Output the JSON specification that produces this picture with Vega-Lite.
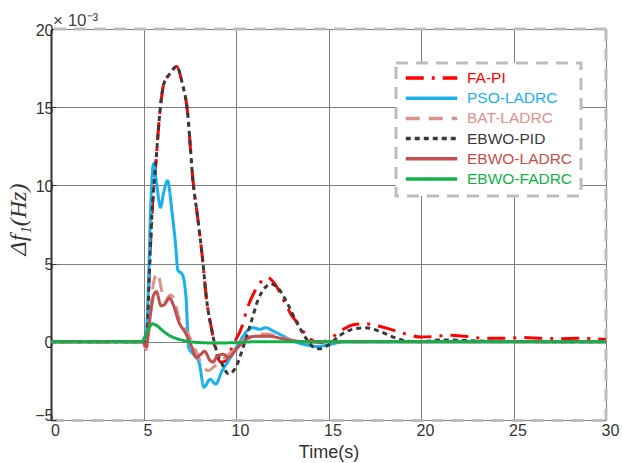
{
  "$schema": "https://vega.github.io/schema/vega-lite/v6.json",
  "width": 555,
  "height": 391,
  "autosize": {"type": "none"},
  "padding": {"left": 51, "top": 29, "right": 16, "bottom": 43},
  "background": "white",
  "title": {"text": "× 10⁻³", "anchor": "start", "frame": "group", "fontSize": 17, "fontWeight": "normal", "font": "Liberation Sans", "color": "#444444", "offset": -8, "dx": 2},
  "config": {
    "view": {"stroke": null},
    "axis": {"labelFont": "Liberation Sans", "titleFont": "Liberation Sans", "labelColor": "#333333", "titleColor": "#333333", "gridColor": "#808080", "gridOpacity": 1, "gridWidth": 1}
  },
  "datasets": {
    "curves": [
      {"s": "FA-PI", "t": 0, "v": 0}, {"s": "FA-PI", "t": 5.05, "v": 0}, {"s": "FA-PI", "t": 5.2, "v": 0.7}, {"s": "FA-PI", "t": 5.3, "v": 3.9}, {"s": "FA-PI", "t": 5.46, "v": 8.2}, {"s": "FA-PI", "t": 5.68, "v": 11.6}, {"s": "FA-PI", "t": 5.84, "v": 14.1}, {"s": "FA-PI", "t": 5.95, "v": 15.4}, {"s": "FA-PI", "t": 6.1, "v": 16.5}, {"s": "FA-PI", "t": 6.4, "v": 17.1}, {"s": "FA-PI", "t": 6.8, "v": 17.6}, {"s": "FA-PI", "t": 7.1, "v": 16.5}, {"s": "FA-PI", "t": 7.35, "v": 15.0}, {"s": "FA-PI", "t": 7.7, "v": 10.0}, {"s": "FA-PI", "t": 7.9, "v": 8.2}, {"s": "FA-PI", "t": 8.2, "v": 5.2}, {"s": "FA-PI", "t": 8.4, "v": 2.8}, {"s": "FA-PI", "t": 8.7, "v": 0.7}, {"s": "FA-PI", "t": 8.9, "v": -0.6}, {"s": "FA-PI", "t": 9.2, "v": -1.3}, {"s": "FA-PI", "t": 9.5, "v": -1.2}, {"s": "FA-PI", "t": 9.8, "v": -0.3}, {"s": "FA-PI", "t": 10.3, "v": 0.9}, {"s": "FA-PI", "t": 10.6, "v": 2.1}, {"s": "FA-PI", "t": 11.0, "v": 3.2}, {"s": "FA-PI", "t": 11.4, "v": 3.9}, {"s": "FA-PI", "t": 11.7, "v": 4.1}, {"s": "FA-PI", "t": 12.1, "v": 3.7}, {"s": "FA-PI", "t": 12.6, "v": 2.6}, {"s": "FA-PI", "t": 13.0, "v": 1.7}, {"s": "FA-PI", "t": 13.4, "v": 1.1}, {"s": "FA-PI", "t": 13.8, "v": 0.4}, {"s": "FA-PI", "t": 14.2, "v": 0.05}, {"s": "FA-PI", "t": 14.6, "v": -0.05}, {"s": "FA-PI", "t": 15.2, "v": 0.3}, {"s": "FA-PI", "t": 15.8, "v": 0.8}, {"s": "FA-PI", "t": 16.4, "v": 1.1}, {"s": "FA-PI", "t": 17.0, "v": 1.15}, {"s": "FA-PI", "t": 17.9, "v": 0.95}, {"s": "FA-PI", "t": 19.2, "v": 0.5}, {"s": "FA-PI", "t": 20.0, "v": 0.3}, {"s": "FA-PI", "t": 20.8, "v": 0.35}, {"s": "FA-PI", "t": 21.6, "v": 0.42}, {"s": "FA-PI", "t": 22.4, "v": 0.35}, {"s": "FA-PI", "t": 23.5, "v": 0.22}, {"s": "FA-PI", "t": 24.5, "v": 0.22}, {"s": "FA-PI", "t": 25.5, "v": 0.28}, {"s": "FA-PI", "t": 26.5, "v": 0.22}, {"s": "FA-PI", "t": 27.5, "v": 0.2}, {"s": "FA-PI", "t": 28.5, "v": 0.22}, {"s": "FA-PI", "t": 30, "v": 0.15},

      {"s": "PSO-LADRC", "t": 0, "v": 0}, {"s": "PSO-LADRC", "t": 4.95, "v": 0}, {"s": "PSO-LADRC", "t": 5.1, "v": -0.15}, {"s": "PSO-LADRC", "t": 5.25, "v": 3.0}, {"s": "PSO-LADRC", "t": 5.4, "v": 9.0}, {"s": "PSO-LADRC", "t": 5.55, "v": 11.4}, {"s": "PSO-LADRC", "t": 5.7, "v": 10.2}, {"s": "PSO-LADRC", "t": 5.92, "v": 8.6}, {"s": "PSO-LADRC", "t": 6.1, "v": 9.6}, {"s": "PSO-LADRC", "t": 6.3, "v": 10.3}, {"s": "PSO-LADRC", "t": 6.55, "v": 8.2}, {"s": "PSO-LADRC", "t": 6.75, "v": 6.0}, {"s": "PSO-LADRC", "t": 6.85, "v": 4.6}, {"s": "PSO-LADRC", "t": 7.1, "v": 4.3}, {"s": "PSO-LADRC", "t": 7.3, "v": 2.8}, {"s": "PSO-LADRC", "t": 7.45, "v": -0.4}, {"s": "PSO-LADRC", "t": 7.7, "v": -0.8}, {"s": "PSO-LADRC", "t": 8.0, "v": -1.3}, {"s": "PSO-LADRC", "t": 8.27, "v": -2.9}, {"s": "PSO-LADRC", "t": 8.6, "v": -2.4}, {"s": "PSO-LADRC", "t": 8.9, "v": -2.7}, {"s": "PSO-LADRC", "t": 9.25, "v": -1.85}, {"s": "PSO-LADRC", "t": 9.6, "v": -1.2}, {"s": "PSO-LADRC", "t": 9.8, "v": -0.8}, {"s": "PSO-LADRC", "t": 10.2, "v": 0.0}, {"s": "PSO-LADRC", "t": 10.6, "v": 0.7}, {"s": "PSO-LADRC", "t": 10.9, "v": 0.9}, {"s": "PSO-LADRC", "t": 11.3, "v": 0.8}, {"s": "PSO-LADRC", "t": 11.6, "v": 0.9}, {"s": "PSO-LADRC", "t": 12.0, "v": 0.7}, {"s": "PSO-LADRC", "t": 12.5, "v": 0.4}, {"s": "PSO-LADRC", "t": 13.2, "v": 0.0}, {"s": "PSO-LADRC", "t": 13.8, "v": -0.2}, {"s": "PSO-LADRC", "t": 14.3, "v": -0.3}, {"s": "PSO-LADRC", "t": 15.0, "v": -0.2}, {"s": "PSO-LADRC", "t": 15.8, "v": 0.0}, {"s": "PSO-LADRC", "t": 30, "v": 0},

      {"s": "BAT-LADRC", "t": 0, "v": 0}, {"s": "BAT-LADRC", "t": 4.95, "v": 0}, {"s": "BAT-LADRC", "t": 5.15, "v": -0.5}, {"s": "BAT-LADRC", "t": 5.35, "v": 1.5}, {"s": "BAT-LADRC", "t": 5.55, "v": 3.8}, {"s": "BAT-LADRC", "t": 5.75, "v": 4.4}, {"s": "BAT-LADRC", "t": 6.0, "v": 3.2}, {"s": "BAT-LADRC", "t": 6.15, "v": 2.6}, {"s": "BAT-LADRC", "t": 6.45, "v": 3.0}, {"s": "BAT-LADRC", "t": 6.65, "v": 2.8}, {"s": "BAT-LADRC", "t": 6.9, "v": 1.6}, {"s": "BAT-LADRC", "t": 7.2, "v": 0.9}, {"s": "BAT-LADRC", "t": 7.5, "v": 0.3}, {"s": "BAT-LADRC", "t": 7.8, "v": -0.5}, {"s": "BAT-LADRC", "t": 8.1, "v": -1.3}, {"s": "BAT-LADRC", "t": 8.5, "v": -1.85}, {"s": "BAT-LADRC", "t": 8.8, "v": -1.6}, {"s": "BAT-LADRC", "t": 9.1, "v": -1.3}, {"s": "BAT-LADRC", "t": 9.5, "v": -0.9}, {"s": "BAT-LADRC", "t": 9.9, "v": -0.5}, {"s": "BAT-LADRC", "t": 10.4, "v": 0.1}, {"s": "BAT-LADRC", "t": 11.0, "v": 0.4}, {"s": "BAT-LADRC", "t": 11.6, "v": 0.5}, {"s": "BAT-LADRC", "t": 12.3, "v": 0.35}, {"s": "BAT-LADRC", "t": 13.0, "v": 0.1}, {"s": "BAT-LADRC", "t": 13.8, "v": -0.05}, {"s": "BAT-LADRC", "t": 14.5, "v": 0}, {"s": "BAT-LADRC", "t": 30, "v": 0},

      {"s": "EBWO-PID", "t": 0, "v": 0}, {"s": "EBWO-PID", "t": 5.05, "v": 0}, {"s": "EBWO-PID", "t": 5.2, "v": 0.7}, {"s": "EBWO-PID", "t": 5.3, "v": 3.9}, {"s": "EBWO-PID", "t": 5.46, "v": 8.2}, {"s": "EBWO-PID", "t": 5.68, "v": 11.6}, {"s": "EBWO-PID", "t": 5.84, "v": 14.1}, {"s": "EBWO-PID", "t": 5.95, "v": 15.4}, {"s": "EBWO-PID", "t": 6.1, "v": 16.5}, {"s": "EBWO-PID", "t": 6.4, "v": 17.1}, {"s": "EBWO-PID", "t": 6.8, "v": 17.6}, {"s": "EBWO-PID", "t": 7.1, "v": 16.5}, {"s": "EBWO-PID", "t": 7.35, "v": 15.0}, {"s": "EBWO-PID", "t": 7.7, "v": 10.0}, {"s": "EBWO-PID", "t": 7.9, "v": 8.2}, {"s": "EBWO-PID", "t": 8.2, "v": 5.2}, {"s": "EBWO-PID", "t": 8.4, "v": 2.8}, {"s": "EBWO-PID", "t": 8.7, "v": 0.7}, {"s": "EBWO-PID", "t": 8.95, "v": -0.6}, {"s": "EBWO-PID", "t": 9.2, "v": -1.3}, {"s": "EBWO-PID", "t": 9.6, "v": -2.05}, {"s": "EBWO-PID", "t": 10.0, "v": -1.6}, {"s": "EBWO-PID", "t": 10.4, "v": -0.3}, {"s": "EBWO-PID", "t": 10.8, "v": 1.2}, {"s": "EBWO-PID", "t": 11.2, "v": 2.7}, {"s": "EBWO-PID", "t": 11.6, "v": 3.5}, {"s": "EBWO-PID", "t": 11.9, "v": 3.7}, {"s": "EBWO-PID", "t": 12.3, "v": 3.4}, {"s": "EBWO-PID", "t": 12.8, "v": 2.4}, {"s": "EBWO-PID", "t": 13.3, "v": 1.2}, {"s": "EBWO-PID", "t": 13.8, "v": 0.2}, {"s": "EBWO-PID", "t": 14.2, "v": -0.35}, {"s": "EBWO-PID", "t": 14.5, "v": -0.45}, {"s": "EBWO-PID", "t": 15.0, "v": -0.2}, {"s": "EBWO-PID", "t": 15.6, "v": 0.4}, {"s": "EBWO-PID", "t": 16.3, "v": 0.8}, {"s": "EBWO-PID", "t": 17.0, "v": 0.9}, {"s": "EBWO-PID", "t": 17.7, "v": 0.7}, {"s": "EBWO-PID", "t": 18.5, "v": 0.3}, {"s": "EBWO-PID", "t": 19.2, "v": 0.05}, {"s": "EBWO-PID", "t": 20.0, "v": 0.0}, {"s": "EBWO-PID", "t": 21.0, "v": 0.12}, {"s": "EBWO-PID", "t": 22.0, "v": 0.1}, {"s": "EBWO-PID", "t": 23.0, "v": 0.05}, {"s": "EBWO-PID", "t": 25.0, "v": 0.02}, {"s": "EBWO-PID", "t": 30, "v": 0},

      {"s": "EBWO-LADRC", "t": 0, "v": 0}, {"s": "EBWO-LADRC", "t": 4.95, "v": 0}, {"s": "EBWO-LADRC", "t": 5.15, "v": -0.3}, {"s": "EBWO-LADRC", "t": 5.35, "v": 1.5}, {"s": "EBWO-LADRC", "t": 5.55, "v": 3.0}, {"s": "EBWO-LADRC", "t": 5.7, "v": 3.2}, {"s": "EBWO-LADRC", "t": 5.95, "v": 2.3}, {"s": "EBWO-LADRC", "t": 6.15, "v": 2.4}, {"s": "EBWO-LADRC", "t": 6.4, "v": 2.8}, {"s": "EBWO-LADRC", "t": 6.6, "v": 2.4}, {"s": "EBWO-LADRC", "t": 6.9, "v": 1.3}, {"s": "EBWO-LADRC", "t": 7.3, "v": 0.5}, {"s": "EBWO-LADRC", "t": 7.6, "v": -0.3}, {"s": "EBWO-LADRC", "t": 7.85, "v": -1.0}, {"s": "EBWO-LADRC", "t": 8.1, "v": -0.8}, {"s": "EBWO-LADRC", "t": 8.3, "v": -0.6}, {"s": "EBWO-LADRC", "t": 8.6, "v": -1.2}, {"s": "EBWO-LADRC", "t": 8.75, "v": -1.3}, {"s": "EBWO-LADRC", "t": 9.0, "v": -0.9}, {"s": "EBWO-LADRC", "t": 9.3, "v": -0.8}, {"s": "EBWO-LADRC", "t": 9.6, "v": -1.0}, {"s": "EBWO-LADRC", "t": 10.0, "v": -0.5}, {"s": "EBWO-LADRC", "t": 10.4, "v": 0.0}, {"s": "EBWO-LADRC", "t": 11.0, "v": 0.35}, {"s": "EBWO-LADRC", "t": 11.8, "v": 0.35}, {"s": "EBWO-LADRC", "t": 12.5, "v": 0.2}, {"s": "EBWO-LADRC", "t": 13.2, "v": 0.05}, {"s": "EBWO-LADRC", "t": 14.0, "v": 0}, {"s": "EBWO-LADRC", "t": 30, "v": 0},

      {"s": "EBWO-FADRC", "t": 0, "v": 0}, {"s": "EBWO-FADRC", "t": 4.9, "v": 0}, {"s": "EBWO-FADRC", "t": 5.1, "v": 0.4}, {"s": "EBWO-FADRC", "t": 5.3, "v": 0.9}, {"s": "EBWO-FADRC", "t": 5.5, "v": 1.15}, {"s": "EBWO-FADRC", "t": 5.7, "v": 1.05}, {"s": "EBWO-FADRC", "t": 6.0, "v": 0.75}, {"s": "EBWO-FADRC", "t": 6.4, "v": 0.4}, {"s": "EBWO-FADRC", "t": 6.8, "v": 0.2}, {"s": "EBWO-FADRC", "t": 7.3, "v": 0.05}, {"s": "EBWO-FADRC", "t": 8.0, "v": -0.05}, {"s": "EBWO-FADRC", "t": 9.0, "v": -0.08}, {"s": "EBWO-FADRC", "t": 10.0, "v": -0.05}, {"s": "EBWO-FADRC", "t": 11.0, "v": 0}, {"s": "EBWO-FADRC", "t": 30, "v": 0}
    ]
  },
  "layer": [
    {
      "data": {"values": [{}]},
      "mark": {"type": "rule", "color": "#bdbdbd", "strokeWidth": 3, "strokeDash": [12, 8]},
      "encoding": {"y": {"datum": 20, "type": "quantitative"}}
    },
    {
      "data": {"values": [{}]},
      "mark": {"type": "rule", "color": "#bdbdbd", "strokeWidth": 3, "strokeDash": [12, 8]},
      "encoding": {"x": {"datum": 30, "type": "quantitative"}}
    },
    {
      "data": {"name": "curves"},
      "mark": {"type": "line", "strokeWidth": 3, "interpolate": "monotone"},
      "encoding": {
        "x": {
          "field": "t", "type": "quantitative",
          "scale": {"domain": [0, 30], "nice": false},
          "axis": {"values": [0, 5, 10, 15, 20, 25, 30], "title": "Time(s)", "titleFontSize": 18, "titleFontWeight": "normal", "titlePadding": 5, "labelFontSize": 16, "labelPadding": 2, "labelOffset": 4, "ticks": false, "domainColor": "#bdbdbd", "domainWidth": 3, "domainDash": [12, 8], "grid": true, "labelFlush": false}
        },
        "y": {
          "field": "v", "type": "quantitative",
          "scale": {"domain": [-5, 20], "nice": false, "zero": false},
          "axis": {"values": [-5, 0, 5, 10, 15, 20], "title": "Δf₁(Hz)", "titleFont": "Liberation Serif", "titleFontStyle": "italic", "titleFontSize": 24, "titleFontWeight": "normal", "titlePadding": 4, "titleY": 190, "labelFontSize": 16, "labelPadding": 3,
            "labelOffset": {"condition": {"test": "datum.value === -5", "value": -5}, "value": 1},
            "ticks": true, "tickSize": -5, "tickColor": "#333333", "domainColor": "#333333", "domainWidth": 2, "grid": true, "labelFlush": false}
        },
        "color": {
          "field": "s", "type": "nominal",
          "scale": {"domain": ["FA-PI", "PSO-LADRC", "BAT-LADRC", "EBWO-PID", "EBWO-LADRC", "EBWO-FADRC"], "range": ["#ff0000", "#1ab0ee", "#d9938e", "#3a3a3a", "#c0504d", "#12b04a"]},
          "legend": {
            "orient": "none", "legendX": 345, "legendY": 34, "title": null,
            "symbolType": "stroke", "symbolSize": 2650, "symbolStrokeWidth": 3.5, "clipHeight": 14,
            "rowPadding": 4.2, "labelFontSize": 15.5, "labelFont": "Liberation Sans", "labelOffset": 8,
            "padding": 8, "strokeColor": "#bdbdbd", "fillColor": "white",
            "encode": {
              "legend": {"update": {"strokeDash": {"value": [12, 8]}, "strokeWidth": {"value": 3}}},
              "labels": {"update": {"fill": {"scale": "color", "field": "value"}}}
            }
          }
        },
        "strokeDash": {
          "field": "s", "type": "nominal",
          "scale": {"domain": ["FA-PI", "PSO-LADRC", "BAT-LADRC", "EBWO-PID", "EBWO-LADRC", "EBWO-FADRC"], "range": [[18, 8, 3, 8], [1, 0], [14, 9], [5, 4], [1, 0], [1, 0]]}
        }
      }
    }
  ]
}
